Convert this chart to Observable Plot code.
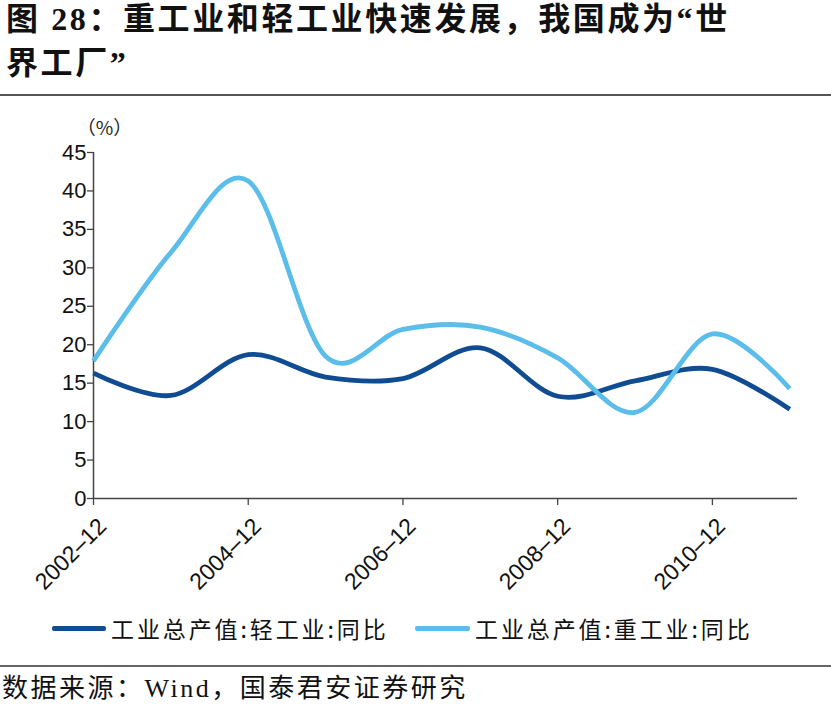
<!DOCTYPE html>
<html>
<head>
<meta charset="utf-8">
<script src="https://cdn.jsdelivr.net/npm/d3@7"></script>
<script src="https://cdn.jsdelivr.net/npm/@observablehq/plot@0.6"></script>
<style>
  body { margin: 0; background: #fff; }
  #wrap { position: relative; width: 831px; height: 712px; overflow: hidden; background: #fff; }
  .title { position: absolute; left: 6px; top: -3px; font-family: "Liberation Serif", "Noto Sans CJK SC", serif; font-weight: bold; font-size: 32px; line-height: 44px; letter-spacing: 2.6px; color: #111; white-space: nowrap; }
  .rule { position: absolute; left: 0; width: 831px; height: 2px; background: #555; }
  #chart { position: absolute; left: 0; top: 100px; }
  .sw { position: absolute; height: 5px; border-radius: 2px; }
  .lg { position: absolute; font-family: "Noto Sans CJK SC", sans-serif; font-size: 23px; line-height: 28px; letter-spacing: 2.9px; color: #111; white-space: nowrap; }
  .src { position: absolute; left: 2px; top: 673px; font-family: "Liberation Serif", "Noto Sans CJK SC", serif; font-size: 26px; line-height: 32px; letter-spacing: 2.5px; color: #111; white-space: nowrap; }
</style>
</head>
<body>
<div id="wrap">
  <div class="title">图 28：重工业和轻工业快速发展，我国成为“世<br>界工厂”</div>
  <div class="rule" style="top:94px"></div>
  <div id="chart"></div>
  <div class="sw" style="left:52px;width:54px;top:626px;background:#0f4c92"></div>
  <div class="lg" style="left:111px;top:614px">工业总产值:轻工业:同比</div>
  <div class="sw" style="left:415px;width:55px;top:626px;background:#5bbde9"></div>
  <div class="lg" style="left:475px;top:614px">工业总产值:重工业:同比</div>
  <div class="rule" style="top:665px;background:#666"></div>
  <div class="src">数据来源：Wind，国泰君安证券研究</div>
</div>
<script>
const years = [2002, 2003, 2004, 2005, 2006, 2007, 2008, 2009, 2010, 2011];
const lightIndustry = [16.3, 13.4, 18.7, 15.8, 15.6, 19.6, 13.3, 15.3, 16.8, 11.6];
const heavyIndustry = [17.9, 32.0, 41.3, 18.5, 22.0, 22.3, 18.3, 11.2, 21.4, 14.3];
const tickYears = [2002, 2004, 2006, 2008, 2010];
const tickLabels = ["2002–12", "2004–12", "2006–12", "2008–12", "2010–12"];
const yTicks = [0, 5, 10, 15, 20, 25, 30, 35, 40, 45];
const seriesNames = ["工业总产值:轻工业:同比", "工业总产值:重工业:同比"];

const rows = [];
years.forEach((yr, i) => rows.push({year: yr, value: lightIndustry[i], series: seriesNames[0]}));
years.forEach((yr, i) => rows.push({year: yr, value: heavyIndustry[i], series: seriesNames[1]}));

const axisColor = "#444";
const chart = Plot.plot({
  width: 831,
  height: 510,
  marginLeft: 93,
  marginRight: 34,
  marginTop: 52,
  marginBottom: 112,
  style: {background: "transparent", overflow: "visible"},
  x: {domain: [2002, 2011.1], axis: null},
  y: {domain: [0, 45], axis: null},
  color: {domain: seriesNames, range: ["#0f4c92", "#5bbde9"]},
  marks: [
    Plot.axisY({ticks: yTicks, tickSize: 6, tickPadding: 1, fontSize: 22, label: null,
      stroke: axisColor, strokeWidth: 1.3, fill: "#111", fontFamily: "Liberation Sans, Arial, sans-serif"}),
    Plot.axisX({ticks: tickYears, tickSize: 7, tickFormat: () => "", label: null,
      stroke: axisColor, strokeWidth: 1.3}),
    Plot.text(tickYears, {x: d => d, y: 0, text: (d, i) => tickLabels[i], rotate: -45,
      textAnchor: "end", dx: 9, dy: 24, fontSize: 23, fill: "#111",
      fontFamily: "Liberation Sans, Arial, sans-serif"}),
    Plot.ruleY([0], {stroke: axisColor, strokeWidth: 1.5}),
    Plot.ruleX([2002], {y1: 0, y2: 45, stroke: axisColor, strokeWidth: 1.5}),
    Plot.text(["（%）"], {x: 2002, y: 45, dy: -24, dx: 11, fontSize: 19, fill: "#222",
      fontFamily: "Noto Sans CJK SC, sans-serif"}),
    Plot.line(rows, {x: "year", y: "value", z: "series", stroke: "series",
      curve: "cardinal", strokeWidth: 4.8, strokeLinecap: "butt", strokeLinejoin: "round"})
  ]
});
document.getElementById("chart").appendChild(chart);
</script>
</body>
</html>
